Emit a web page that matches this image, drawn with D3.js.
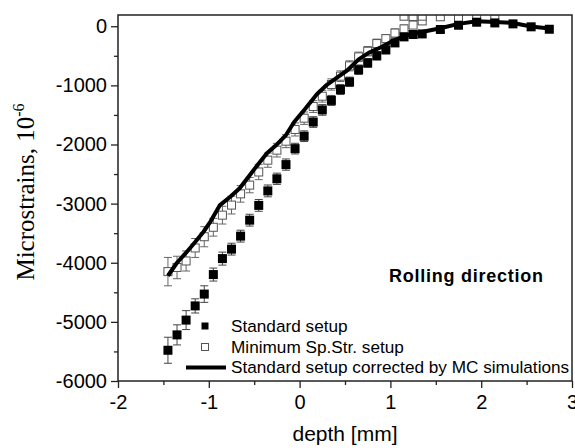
<!DOCTYPE html>
<html>
<head>
<meta charset="utf-8">
<script src="https://cdn.jsdelivr.net/npm/d3@7"></script>
<style>
  body { margin: 0; background: #fff; }
  .tick text { font-family: "Liberation Sans", Arial, sans-serif; font-size: 20px; fill: #000; }
  .tick line { stroke: #222; stroke-width: 1.3; }
  .legend text { font-family: "Liberation Sans", Arial, sans-serif; font-size: 17.2px; }
</style>
</head>
<body>
<svg id="chart" width="575" height="448"></svg>
<script>
// depth positions (mm)
const depthStd = [-1.45, -1.35, -1.25, -1.15, -1.05, -0.95, -0.85, -0.75, -0.65, -0.55, -0.45, -0.35,
  -0.25, -0.15, -0.05, 0.05, 0.15, 0.25, 0.35, 0.45, 0.55, 0.65, 0.75, 0.85, 0.95, 1.05, 1.15, 1.25,
  1.35, 1.55, 1.75, 1.95, 2.15, 2.35, 2.55, 2.75];
// Standard setup
const strainStd = [-5480, -5220, -4970, -4730, -4530, -4200, -3930, -3770, -3550, -3280, -3030, -2785,
  -2580, -2340, -2070, -1860, -1620, -1415, -1255, -1070, -940, -735, -620, -500, -400, -282, -180, -140,
  -130, -55, 17, 68, 56, 40, -10, -51];
const errStd = [220, 170, 160, 120, 140, 110, 110, 100, 100, 100, 100, 100,
  95, 95, 90, 90, 90, 90, 85, 85, 80, 80, 75, 70, 65, 60, 55, 50,
  50, 45, 45, 40, 40, 40, 40, 40];

// Minimum Sp.Str. setup
const depthMin = [-1.45, -1.35, -1.25, -1.15, -1.05, -0.95, -0.85, -0.75, -0.65, -0.55, -0.45, -0.35,
  -0.25, -0.15, -0.05, 0.05, 0.15, 0.25, 0.35, 0.45, 0.55, 0.65, 0.75, 0.85, 0.95, 1.05, 1.15, 1.25,
  1.35, 1.15, 1.25, 1.35, 1.55, 1.75, 1.95, 2.15];
const strainMin = [-4150, -4080, -3970, -3750, -3560, -3400, -3195, -3025, -2835, -2687, -2465, -2265,
  -2096, -1944, -1746, -1555, -1358, -1183, -985, -845, -670, -518, -423, -293, -210, -115, -45, 20,
  90, 170, 165, 170, 160, 140, 150, 125];
const errMin = [240, 190, 170, 160, 170, 150, 150, 150, 140, 130, 130, 120,
  115, 110, 110, 105, 100, 100, 95, 90, 85, 80, 80, 75, 70, 70, 65, 60,
  60, 60, 60, 60, 55, 55, 50, 50];

// Standard setup corrected by MC simulations
const depthMC = [-1.45, -1.35, -1.25, -1.15, -1.06, -0.98, -0.88, -0.76, -0.66, -0.56, -0.45, -0.36,
  -0.25, -0.15, -0.06, 0.06, 0.19, 0.3, 0.4, 0.53, 0.65, 0.76, 0.89, 1.05, 1.22, 1.4, 1.55, 1.75,
  1.95, 2.15, 2.35, 2.55, 2.75];
const strainMC = [-4220, -4000, -3830, -3650, -3480, -3300, -3030, -2880, -2740, -2540, -2320, -2150,
  -2000, -1840, -1620, -1400, -1150, -990, -880, -740, -560, -450, -360, -230, -140, -80, -35, 40,
  85, 70, 55, -5, -40];

const xTicks = [-2, -1, 0, 1, 2, 3];
const xMinor = [-1.5, -0.5, 0.5, 1.5, 2.5];
const yTicks = [-6000, -5000, -4000, -3000, -2000, -1000, 0];
const yMinor = [-5500, -4500, -3500, -2500, -1500, -500];

const legendLabels = ["Standard setup", "Minimum Sp.Str. setup", "Standard setup corrected by MC simulations"];

const svg = d3.select("#chart");
const margin = { left: 118, right: 3, top: 15, bottom: 67 };
const width = 575, height = 448;

const xScale = d3.scaleLinear().domain([-2, 3]).range([margin.left, width - margin.right]);
const yScale = d3.scaleLinear().domain([-6000, 190]).range([height - margin.bottom, margin.top]);

const x0 = xScale.range()[0], x1 = xScale.range()[1];
const y0 = yScale.range()[1], y1 = yScale.range()[0];

svg.append("clipPath").attr("id", "plot-clip")
  .append("rect")
  .attr("x", x0).attr("y", y0)
  .attr("width", x1 - x0).attr("height", y1 - y0);

// axes
const xAxis = d3.axisBottom(xScale).tickValues(xTicks).tickSize(7).tickSizeOuter(0).tickPadding(7)
  .tickFormat(d3.format("d"));
const xMinorAxis = d3.axisBottom(xScale).tickValues(xMinor).tickSize(4).tickFormat("");
const yAxis = d3.axisLeft(yScale).tickValues(yTicks).tickSize(7).tickSizeOuter(0).tickPadding(4)
  .tickFormat(d => d === 0 ? "0" : String(d));
const yMinorAxis = d3.axisLeft(yScale).tickValues(yMinor).tickSize(4).tickFormat("");

svg.append("g").attr("transform", `translate(0,${y1})`).call(xAxis).select(".domain").remove();
svg.append("g").attr("transform", `translate(0,${y1})`).call(xMinorAxis).select(".domain").remove();
svg.append("g").attr("transform", `translate(${x0},0)`).call(yAxis).select(".domain").remove();
svg.append("g").attr("transform", `translate(${x0},0)`).call(yMinorAxis).select(".domain").remove();
svg.selectAll(".tick text").attr("fill", "#000").text(function () {
  return this.textContent.replace("\u2212", "-");
});

const plot = svg.append("g").attr("clip-path", "url(#plot-clip)");

const half = 4;
const cap = 4;

// error bars helper
const drawErrors = (g, xs, ys, es, color) => {
  const data = xs.map((x, i) => ({ x, y: ys[i], e: es[i] }));
  const eg = g.append("g").attr("stroke", color).attr("stroke-width", 1).attr("fill", "none");
  eg.selectAll("path").data(data).enter().append("path")
    .attr("d", d => {
      const cx = xScale(d.x);
      const top = yScale(d.y + d.e), bot = yScale(d.y - d.e);
      return `M${cx},${top}V${bot}M${cx - cap},${top}H${cx + cap}M${cx - cap},${bot}H${cx + cap}`;
    });
};

// Minimum Sp.Str. setup (open squares)
drawErrors(plot, depthMin, strainMin, errMin, "#666");
plot.append("g").selectAll("rect").data(depthMin.map((x, i) => ({ x, y: strainMin[i] })))
  .enter().append("rect")
  .attr("x", d => xScale(d.x) - half)
  .attr("y", d => yScale(d.y) - half)
  .attr("width", half * 2).attr("height", half * 2)
  .attr("fill", "#fff").attr("stroke", "#555").attr("stroke-width", 1);

// Standard setup (filled squares)
drawErrors(plot, depthStd, strainStd, errStd, "#444");
plot.append("g").selectAll("rect").data(depthStd.map((x, i) => ({ x, y: strainStd[i] })))
  .enter().append("rect")
  .attr("x", d => xScale(d.x) - half - 0.5)
  .attr("y", d => yScale(d.y) - half - 0.5)
  .attr("width", half * 2 + 1).attr("height", half * 2 + 1)
  .attr("fill", "#000");

// MC corrected line
const lineGenerator = d3.line().x(d => xScale(d[0])).y(d => yScale(d[1]));
plot.append("path")
  .datum(depthMC.map((x, i) => [x, strainMC[i]]))
  .attr("d", lineGenerator)
  .attr("fill", "none").attr("stroke", "#000").attr("stroke-width", 4)
  .attr("stroke-linejoin", "round");

// frame
svg.append("rect")
  .attr("x", x0).attr("y", y0)
  .attr("width", x1 - x0).attr("height", y1 - y0)
  .attr("fill", "none").attr("stroke", "#222").attr("stroke-width", 1.5);

// annotation
svg.append("text")
  .attr("x", 389).attr("y", 282)
  .attr("font-family", "Liberation Sans, Arial, sans-serif")
  .attr("font-weight", "bold").attr("font-size", 18)
  .attr("textLength", 154).attr("lengthAdjust", "spacing")
  .text("Rolling direction");

// legend
const legend = svg.append("g").attr("class", "legend");
const rowY = [326, 347, 367.5];
legend.append("rect").attr("x", 201.5).attr("y", rowY[0] - 3.5).attr("width", 7).attr("height", 7).attr("fill", "#000");
legend.append("rect").attr("x", 201.5).attr("y", rowY[1] - 3.5).attr("width", 7).attr("height", 7)
  .attr("fill", "#fff").attr("stroke", "#555").attr("stroke-width", 1);
legend.append("line").attr("x1", 186).attr("x2", 226).attr("y1", rowY[2]).attr("y2", rowY[2])
  .attr("stroke", "#000").attr("stroke-width", 4);
legend.selectAll("text.item").data(legendLabels).enter().append("text")
  .attr("class", "item")
  .attr("x", 231).attr("y", (d, i) => rowY[i] + 5.5)
  .text(d => d);

// axis titles
svg.append("text")
  .attr("x", 345).attr("y", 441)
  .attr("text-anchor", "middle")
  .attr("font-family", "Liberation Sans, Arial, sans-serif")
  .attr("font-size", 21)
  .text("depth [mm]");

const yTitle = svg.append("text")
  .attr("transform", "translate(34,192) rotate(-90)")
  .attr("text-anchor", "middle")
  .attr("font-family", "Liberation Serif, Times New Roman, serif")
  .attr("font-size", 25);
yTitle.append("tspan").text("Microstrains, 10");
yTitle.append("tspan").attr("dy", -10).attr("font-size", 16).text("-6");
</script>
</body>
</html>
